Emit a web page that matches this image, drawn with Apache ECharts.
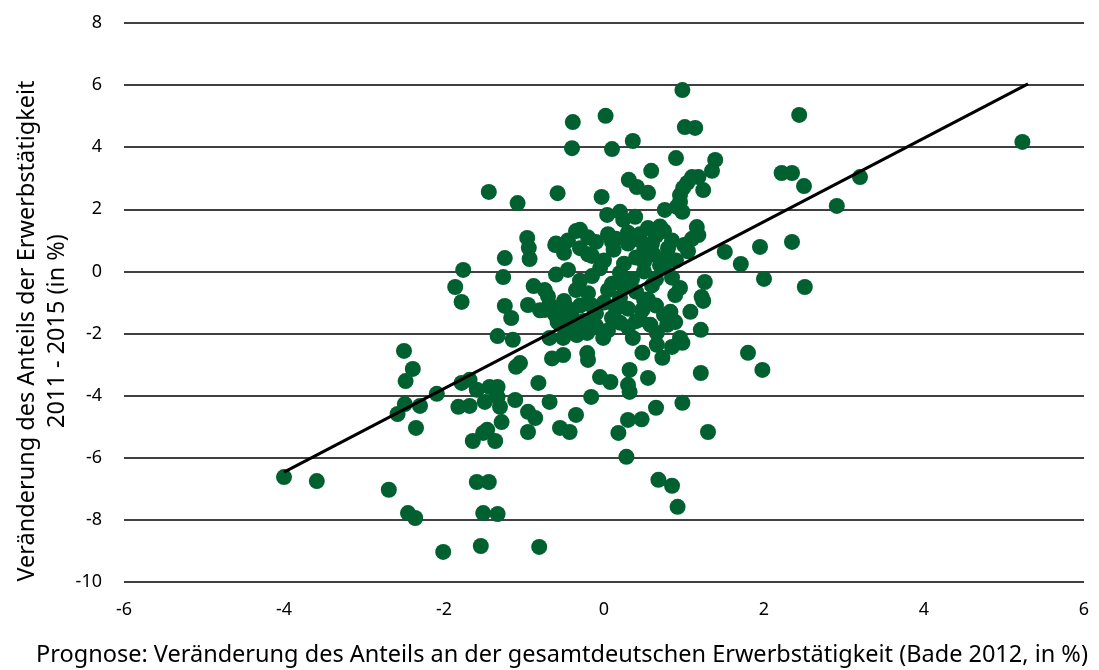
<!DOCTYPE html>
<html>
<head>
<meta charset="utf-8">
<script src="https://cdn.jsdelivr.net/npm/echarts@6/dist/echarts.min.js"></script>
<style>
  html, body { margin: 0; padding: 0; background: #fff; }
  #chart { width: 1099px; height: 670px; }
</style>
</head>
<body>
<div id="chart"></div>
<script>
// Prognose (x) vs. tatsächliche Veränderung (y), Anteil an der Erwerbstätigkeit in %
const prognose = [
  -4.0, -3.59, -2.69, -2.45, -2.36, -2.01, -1.54, -0.81,
  -1.59, -1.44, -1.51, -1.33,
  -2.5, -2.39, -2.48, -2.09, -2.49, -2.3, -2.58, -2.35,
  -1.78, -1.68, -1.59, -1.43, -1.33, -1.49, -1.33, -1.3, -1.11, -1.82, -1.68, -1.28,
  -0.95, -0.86, -0.68, -0.95, -1.46, -1.51, -1.64, -1.36, -0.55, -0.43,
  -0.35, -0.16, -0.05, 0.08, 0.32, 0.3, 0.32, 0.18, 0.28, 0.3, 0.47,
  0.55, 0.65, 0.98, 0.68, 0.85, 0.92, 1.3, 1.21,
  0.48, 0.73, 0.85, 0.98, 1.21, 1.8, 1.98,
  -1.05, -1.1, -0.82, -0.21, -0.2, -0.65, -0.51,
  -1.33, -1.14, -0.68, -0.51, -0.34, -0.21, -0.01, 0.36, 0.66, 0.66,
  -1.44, -1.08, -0.96, -0.94, -0.93, -1.24, -1.26, -1.76, -1.86, -1.78,
  -0.88, -0.74, -1.24, -1.16, -0.95, -0.61, -0.58,
  -0.68, -0.61, -0.74, -0.58,
  -0.39, 0.02, -0.4, 0.1, 0.36, 0.31, 0.41, -0.03, 0.04, 0.2, 0.24, 0.39, -0.3,
  0.98, 1.01, 1.14, 0.9, 0.59, 1.39, 1.35, 1.1, 1.18, 1.04, 0.99, 1.24, 0.55,
  0.95, 0.95, 0.91, 0.76, 0.98, 1.16, 1.18,
  2.44, 5.23, 2.22, 2.35, 2.5, 3.2, 2.91, 1.51, 1.71, 1.95, 2.35, 1.26, 2.0, 2.51, 1.22, 1.24,
  0.95, 0.89, 1.08, 0.83, 0.48, 0.89, 0.79, 0.58, 0.95,
  -0.6, -0.45, -0.35, -0.2, -0.1, 0.05, 0.15, 0.3, 0.45, 0.55, 0.65, 0.75, 0.85, 1.0, 1.1,
  -0.5, -0.3, -0.15, 0.0, 0.12, 0.25, 0.4, 0.5, 0.62, 0.7, 0.8, 0.9, 1.05,
  -0.6, -0.45, -0.3, -0.15, -0.05, 0.1, 0.2, 0.35, 0.5, 0.6, 0.75, 0.85,
  -0.7, -0.6, -0.5, -0.4, -0.3, -0.2, -0.1, 0.0, 0.1, 0.2, 0.3, 0.4, 0.55, 0.65, 0.75,
  -0.55, -0.4, -0.25, -0.1, 0.05, 0.2, 0.3, 0.45,
  -0.45, -0.35, -0.25, -0.15, 0.05, 0.15, 0.25, 0.4, 0.5, 0.3, 0.45, 0.6, 0.7, 0.5,
  0.8, -0.2, 0.1, 0.65, -0.55, -0.8
];
const veraenderung = [
  -6.62, -6.75, -7.03, -7.78, -7.94, -9.03, -8.84, -8.87,
  -6.78, -6.78, -7.78, -7.81,
  -2.56, -3.14, -3.53, -3.94, -4.27, -4.33, -4.59, -5.04,
  -3.59, -3.49, -3.81, -3.72, -3.72, -4.2, -4.04, -4.36, -4.14, -4.36, -4.33, -4.85,
  -4.52, -4.72, -4.2, -5.17, -5.1, -5.2, -5.46, -5.46, -5.04, -5.17,
  -4.62, -4.04, -3.4, -3.56, -3.17, -3.65, -3.88, -5.2, -5.97, -4.78, -4.76,
  -3.43, -4.39, -4.23, -6.71, -6.9, -7.58, -5.17, -3.27,
  -2.62, -2.78, -2.43, -2.3, -1.88, -2.62, -3.17,
  -2.95, -3.07, -3.59, -2.63, -2.85, -2.8, -2.69,
  -2.08, -2.2, -2.14, -2.14, -2.05, -1.98, -2.14, -2.14, -1.98, -2.36,
  2.56, 2.2, 1.08, 0.76, 0.4, 0.43, -0.18, 0.05, -0.5, -0.98,
  -0.47, -0.6, -1.11, -1.5, -1.08, 0.85, 2.52,
  -1.08, -1.4, -1.24, -1.63,
  4.81, 5.01, 3.97, 3.94, 4.2, 2.95, 2.72, 2.4, 1.82, 1.92, 1.66, 1.76, 1.34,
  5.84, 4.65, 4.62, 3.65, 3.24, 3.59, 3.24, 3.04, 3.04, 2.85, 2.69, 2.62, 2.53,
  2.46, 2.24, 2.08, 1.98, 1.92, 1.43, 1.17,
  5.04, 4.17, 3.17, 3.17, 2.75, 3.04, 2.11, 0.63, 0.24, 0.79, 0.95, -0.34, -0.24, -0.5, -0.82, -0.95,
  -0.53, -0.76, -1.3, -1.3, -1.24, -1.63, -1.72, -1.72, -2.14,
  0.9, 1.0, 1.3, 1.1, 0.95, 1.2, 1.05, 1.25, 1.0, 1.4, 1.15, 1.3, 1.0, 0.85, 1.05,
  0.6, 0.75, 0.5, 0.35, 0.7, 0.25, 0.45, 0.3, 0.55, 0.2, 0.5, 0.35, 0.65,
  -0.1, 0.05, -0.3, -0.15, 0.1, -0.4, -0.05, -0.25, 0.0, -0.45, 0.15, -0.2,
  -0.8, -1.3, -0.95, -1.45, -1.1, -0.7, -1.35, -1.0, -1.5, -0.85, -1.2, -0.65, -0.9, -1.1, -1.4,
  -1.7, -1.85, -1.6, -1.75, -1.9, -1.65, -1.8, -1.55,
  -1.2, -0.6, -1.6, -1.1, -0.6, -1.2, -0.5, -1.6, -0.9, 0.9, 1.2, 0.9, 1.45, 0.65,
  0.75, 0.55, 0.95, -0.25, -1.55, -1.25
];
// linear trend line endpoints
const trendX = [-4.0, 5.3];
const trendY = [-6.46, 6.04];

const xTicks = [-6, -4, -2, 0, 2, 4, 6];
const yTicks = [-10, -8, -6, -4, -2, 0, 2, 4, 6, 8];

const xTitle = 'Prognose: Veränderung des Anteils an der gesamtdeutschen Erwerbstätigkeit (Bade 2012, in %)';
const yTitle = 'Veränderung des Anteils der Erwerbstätigkeit\n2011 - 2015 (in %)';

const points = prognose.map((x, i) => [x, veraenderung[i]]);
const trend = trendX.map((x, i) => [x, trendY[i]]);

const FONT = '"Source Sans Pro", "Noto Sans", sans-serif';

const chart = echarts.init(document.getElementById('chart'), null, { renderer: 'canvas' });
chart.setOption({
  animation: false,
  backgroundColor: '#ffffff',
  grid: { left: 124, right: 15, top: 23, bottom: 88, containLabel: false },
  xAxis: {
    type: 'value',
    min: xTicks[0], max: xTicks[xTicks.length - 1], interval: 2,
    axisLine: { show: false },
    axisTick: { show: false },
    splitLine: { show: false },
    axisLabel: { color: '#000', fontSize: 18, fontFamily: FONT, margin: 19 }
  },
  yAxis: {
    type: 'value',
    min: yTicks[0], max: yTicks[yTicks.length - 1], interval: 2,
    axisLine: { show: false },
    axisTick: { show: false },
    splitLine: { show: true, lineStyle: { color: '#000', width: 1.5 } },
    axisLabel: { color: '#000', fontSize: 18, fontFamily: FONT, margin: 22 }
  },
  graphic: [
    {
      type: 'text', x: 562, y: 655,
      style: { text: xTitle, fill: '#000', font: '23.5px ' + FONT, textAlign: 'center', textVerticalAlign: 'middle' }
    },
    {
      type: 'text', x: 42, y: 331, rotation: Math.PI / 2,
      style: { text: yTitle, fill: '#000', font: '23.5px ' + FONT, textAlign: 'center', textVerticalAlign: 'middle', lineHeight: 30 }
    }
  ],
  series: [
    {
      type: 'scatter',
      data: points,
      symbol: 'circle',
      symbolSize: 16,
      itemStyle: { color: '#00602f', opacity: 1 },
      z: 2
    },
    {
      type: 'line',
      data: trend,
      symbol: 'none',
      lineStyle: { color: '#000', width: 3 },
      z: 3
    }
  ]
});
</script>
</body>
</html>
